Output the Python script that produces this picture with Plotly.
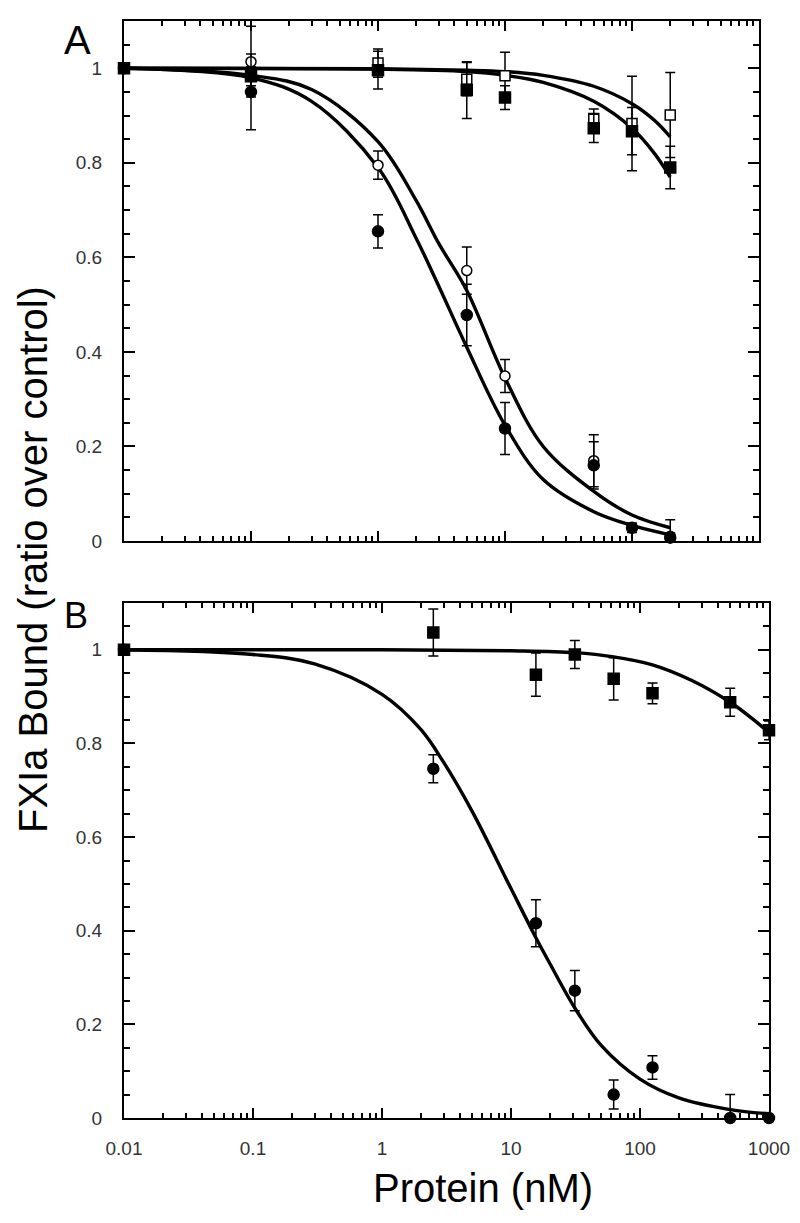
import plotly.graph_objects as go

# ---------------- Panel A data ----------------
a_x = [0.01, 0.1, 1, 5, 10, 50, 100, 200]
a_fc_y = [1.0, 0.95, 0.655, 0.478, 0.238, 0.16, 0.028, 0.007]      # filled circles
a_fc_e = [0, 0.08, 0.035, 0.065, 0.055, 0.05, 0.01, 0.01]
a_oc_y = [1.0, 1.014, 0.795, 0.572, 0.349, 0.17, None, 0.01]       # open circles
a_oc_e = [0, 0.075, 0.03, 0.05, 0.035, 0.055, 0, 0.035]
a_fs_y = [1.0, 0.983, 0.996, 0.954, 0.938, 0.873, 0.867, 0.79]     # filled squares
a_fs_e = [0, 0.02, 0.04, 0.06, 0.025, 0.03, 0.05, 0.045]
a_os_y = [1.0, None, 1.011, 0.977, 0.984, 0.894, 0.883, 0.901]     # open squares
a_os_e = [0, 0, 0.03, 0.035, 0.05, 0.02, 0.1, 0.09]

# fitted curves
a_cx_low = [0.01, 0.1, 0.3, 1, 2, 3, 5, 10, 20, 50, 100, 200]
a_cy_fc = [1.0, 0.98, 0.93, 0.79, 0.64, 0.54, 0.41, 0.245, 0.13, 0.062, 0.033, 0.013]
a_cy_oc = [1.0, 0.985, 0.955, 0.845, 0.72, 0.63, 0.53, 0.345, 0.2, 0.105, 0.055, 0.028]
a_cx_high = [0.01, 1, 5, 10, 20, 50, 100, 150, 200]
a_cy_fs = [1.0, 0.998, 0.993, 0.985, 0.97, 0.93, 0.873, 0.82, 0.77]
a_cy_os = [1.0, 0.999, 0.996, 0.993, 0.985, 0.962, 0.925, 0.89, 0.855]

# ---------------- Panel B data ----------------
b_x = [0.01, 2.5, 15.6, 31.25, 62.5, 125, 500, 1000]
b_fs_y = [1.0, 1.037, 0.947, 0.99, 0.938, 0.907, 0.888, 0.828]
b_fs_e = [0, 0.05, 0.046, 0.03, 0.045, 0.022, 0.03, 0.02]
b_fc_y = [1.0, 0.746, 0.416, 0.272, 0.05, 0.108, 0.0, 0.0]
b_fc_e = [0, 0.03, 0.05, 0.043, 0.031, 0.025, 0.05, 0]

b_cx_fc = [0.01, 0.1, 0.3, 1, 2, 3, 5, 10, 15.6, 20, 31.25, 50, 100, 200, 500, 1000]
b_cy_fc = [1.0, 0.99, 0.97, 0.905, 0.83, 0.76, 0.655, 0.49, 0.385, 0.33, 0.235, 0.155,
           0.083, 0.043, 0.018, 0.009]
b_cx_fs = [0.01, 1, 10, 31.25, 62.5, 125, 250, 500, 750, 1000]
b_cy_fs = [1.0, 1.0, 0.998, 0.994, 0.985, 0.968, 0.935, 0.888, 0.852, 0.823]

y_tickvals = [0, 0.2, 0.4, 0.6, 0.8, 1]
y_ticktext = ["0", "0.2", "0.4", "0.6", "0.8", "1"]
x_tickvals = [0.01, 0.1, 1, 10, 100, 1000]
x_ticktext = ["0.01", "0.1", "1", "10", "100", "1000"]

FONT = "Liberation Sans, Arial, sans-serif"
fig = go.Figure()


def curve(x, y, xa, ya):
    fig.add_trace(go.Scatter(x=x, y=y, mode="lines", line=dict(color="black", width=3.4, shape="spline"),
                             xaxis=xa, yaxis=ya, showlegend=False, hoverinfo="skip"))


def pts(x, y, e, symbol, fill, size, xa, ya):
    fig.add_trace(go.Scatter(
        x=x, y=y, mode="markers", xaxis=xa, yaxis=ya, showlegend=False, cliponaxis=False,
        marker=dict(symbol=symbol, size=size, color=fill, line=dict(color="black", width=1.5)),
        error_y=dict(type="data", array=e, visible=True, color="black", thickness=1.5, width=5)))


# Panel A
curve(a_cx_low, a_cy_fc, "x", "y")
curve(a_cx_low, a_cy_oc, "x", "y")
curve(a_cx_high, a_cy_fs, "x", "y")
curve(a_cx_high, a_cy_os, "x", "y")
pts(a_x, a_os_y, a_os_e, "square", "white", 10, "x", "y")
pts(a_x, a_oc_y, a_oc_e, "circle", "white", 10, "x", "y")
pts(a_x, a_fs_y, a_fs_e, "square", "black", 11, "x", "y")
pts(a_x, a_fc_y, a_fc_e, "circle", "black", 11, "x", "y")

# Panel B
curve(b_cx_fc, b_cy_fc, "x2", "y2")
curve(b_cx_fs, b_cy_fs, "x2", "y2")
pts(b_x, b_fs_y, b_fs_e, "square", "black", 11, "x2", "y2")
pts(b_x, b_fc_y, b_fc_e, "circle", "black", 11, "x2", "y2")

W, H = 800, 1223


def xaxis(domain, anchor, labels):
    return dict(type="log", range=[-2, 3], domain=domain, anchor=anchor, automargin=False,
                tickmode="array", tickvals=x_tickvals, ticktext=x_ticktext,
                showticklabels=labels, ticks="inside", ticklen=10, tickwidth=1.5, tickcolor="black",
                minor=dict(ticks="inside", ticklen=5, tickwidth=1.5, tickcolor="black",
                           tickvals=[m * 10 ** k for k in range(-2, 3) for m in range(2, 10)]),
                showline=True, linecolor="black", linewidth=2, mirror="allticks",
                showgrid=False, zeroline=False, ticklabelstandoff=12,
                tickfont=dict(family=FONT, size=19, color="#333333"))


def yaxis(domain, anchor):
    return dict(range=[0, 1.1], domain=domain, anchor=anchor, automargin=False,
                tickmode="array", tickvals=y_tickvals, ticktext=y_ticktext,
                ticks="inside", ticklen=11, tickwidth=1.5, tickcolor="black",
                minor=dict(ticks="inside", ticklen=6, tickwidth=1.5, tickcolor="black",
                           tickvals=[i * 0.05 for i in range(0, 23)]),
                showline=True, linecolor="black", linewidth=2, mirror="allticks",
                showgrid=False, zeroline=False, ticklabelstandoff=16,
                tickfont=dict(family=FONT, size=19, color="#333333"))


fig.update_layout(
    width=W, height=H, margin=dict(l=0, r=0, t=0, b=0, autoexpand=False),
    paper_bgcolor="white", plot_bgcolor="white",
    xaxis=xaxis([124 / W, 759 / W], "y", False),
    yaxis=yaxis([1 - 541 / H, 1 - 21 / H], "x"),
    xaxis2=xaxis([124 / W, 769 / W], "y2", True),
    yaxis2=yaxis([1 - 1118 / H, 1 - 603 / H], "x2"),
    annotations=[
        dict(text="A", x=77 / W, y=1 - 40 / H, xref="paper", yref="paper", showarrow=False,
             xanchor="center", yanchor="middle", font=dict(family=FONT, size=40, color="black")),
        dict(text="B", x=76 / W, y=1 - 615 / H, xref="paper", yref="paper", showarrow=False,
             xanchor="center", yanchor="middle", font=dict(family=FONT, size=36, color="black")),
        dict(text="FXIa Bound (ratio over control)", x=33 / W, y=1 - 560 / H, xref="paper", yref="paper",
             showarrow=False, textangle=-90, xanchor="center", yanchor="middle",
             font=dict(family=FONT, size=40, color="black")),
        dict(text="Protein (nM)", x=483 / W, y=1 - 1188 / H, xref="paper", yref="paper", showarrow=False,
             xanchor="center", yanchor="middle", font=dict(family=FONT, size=40, color="black")),
    ],
)

fig.write_html("out.html", config={"displayModeBar": False},
               post_script="document.body.style.margin='0';document.body.style.overflow='hidden';")
